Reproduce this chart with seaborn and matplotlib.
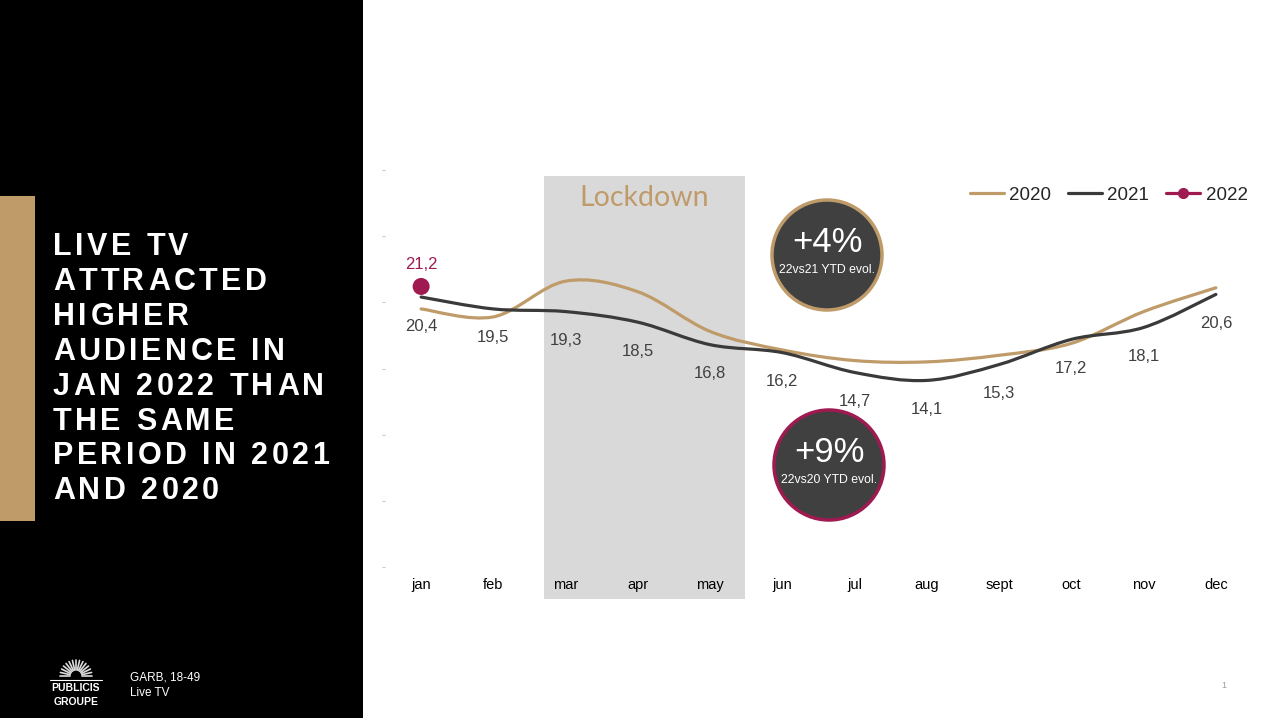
import numpy as np
import pandas as pd
import matplotlib
matplotlib.use("Agg")
import matplotlib.pyplot as plt
import seaborn as sns
from matplotlib.path import Path
from matplotlib.patches import PathPatch, Rectangle, Ellipse
from matplotlib.lines import Line2D
from matplotlib.font_manager import FontProperties, findfont, get_font

# Data (monthly live TV audience, GARB 18-49)
months = ['jan', 'feb', 'mar', 'apr', 'may', 'jun', 'jul', 'aug', 'sept', 'oct', 'nov', 'dec']
vals_2020 = [19.5, 18.9, 21.6, 20.8, 17.8, 16.4, 15.6, 15.5, 16.0, 16.9, 19.3, 21.1]
vals_2021 = [20.4, 19.5, 19.3, 18.5, 16.8, 16.2, 14.7, 14.1, 15.3, 17.2, 18.1, 20.6]
vals_2022 = [21.2]
labels_2021 = ['20,4', '19,5', '19,3', '18,5', '16,8', '16,2', '14,7', '14,1', '15,3', '17,2', '18,1', '20,6']
labels_2022 = ['21,2']

TAN = '#bf9b6a'
DARK = '#3a3a3a'
CRIMSON = '#9e1a50'
W, H = 1279, 718

sns.set_theme(style="white")
plt.rcParams['font.family'] = ['Liberation Sans', 'DejaVu Sans']


def fx(px):
    return px / W


def fy(py):
    return 1 - py / H


def smooth_path(x, y):
    # Catmull-Rom style bezier through the data points (like Excel "smoothed line")
    pts = np.column_stack([x, y]).astype(float)
    ext = np.vstack([pts[0], pts, pts[-1]])
    verts = [pts[0]]
    codes = [Path.MOVETO]
    for i in range(1, len(ext) - 2):
        p0, p1, p2, p3 = ext[i - 1], ext[i], ext[i + 1], ext[i + 2]
        verts += [p1 + (p2 - p0) / 6, p2 - (p3 - p1) / 6, p2]
        codes += [Path.CURVE4] * 3
    return Path(verts, codes)


def tracked_text(fig, x0, y0, s, size, tracking, **kw):
    # draw a line of text char by char with extra letter spacing (pixels)
    prop = FontProperties(family='Liberation Sans', weight='bold', size=size)
    font = get_font(findfont(prop))
    font.set_size(size, 100)
    x = x0
    for ch in s:
        if ch != ' ':
            fig.text(fx(x), fy(y0), ch, fontproperties=prop, va='baseline', ha='left', **kw)
        adv = font.load_char(ord(ch)).linearHoriAdvance / 65536
        x += adv + tracking


fig = plt.figure(figsize=(W / 100, H / 100), dpi=100)
fig.patch.set_facecolor('white')

# left black panel with tan accent bar
fig.patches.append(Rectangle((0, 0), fx(363), 1, transform=fig.transFigure,
                             facecolor='black', edgecolor='none', zorder=0))
fig.patches.append(Rectangle((0, fy(521)), fx(35), (521 - 196) / H, transform=fig.transFigure,
                             facecolor=TAN, edgecolor='none', zorder=1))

title_lines = ['LIVE TV', 'ATTRACTED', 'HIGHER', 'AUDIENCE IN', 'JAN 2022 THAN',
               'THE SAME', 'PERIOD IN 2021', 'AND 2020']
for i, line in enumerate(title_lines):
    tracked_text(fig, 53, 255 + i * 34.9, line, 22, 3.4, color='white', zorder=3)

# logo + source
fig.text(fx(76), fy(688), 'PUBLICIS', color='white', fontsize=7.5, fontweight='bold',
         ha='center', va='center', zorder=3)
fig.text(fx(76), fy(702), 'GROUPE', color='white', fontsize=7.5, fontweight='bold',
         ha='center', va='center', zorder=3)
fig.lines.append(Line2D([fx(50), fx(102)], [fy(680), fy(680)], transform=fig.transFigure,
                        color='white', lw=0.8))
for a in np.linspace(0, np.pi, 15):
    cx, cy = 76, 668
    fig.lines.append(Line2D([fx(cx + 6 * np.cos(a)), fx(cx + 16 * np.cos(a))],
                            [fy(cy - 6 * np.sin(a) + 8), fy(cy - 16 * np.sin(a) + 8)],
                            transform=fig.transFigure, color='#dddddd', lw=1.2))
fig.text(fx(130), fy(677), 'GARB, 18-49', color='white', fontsize=8.5, va='center')
fig.text(fx(130), fy(693), 'Live TV', color='white', fontsize=8.5, va='center')
fig.text(fx(1224), fy(686), '1', color='#9a9a9a', fontsize=6.5, ha='center', va='center')

# main chart axes
ax = fig.add_axes([fx(385), fy(567), (1252 - 385) / W, (567 - 170) / H])
ax.patch.set_alpha(0)
x = np.arange(len(months))
ax.set_xlim(-0.5, len(months) - 0.5)
ax.set_ylim(0, 30)

# lockdown box
ax.add_patch(Rectangle((fx(544), fy(599)), (745 - 544) / W, (599 - 176) / H,
                       transform=fig.transFigure, facecolor='#d9d9d9', edgecolor='none',
                       clip_on=False, zorder=0))
fig.text(fx(644), fy(198), 'Lockdown', color=TAN, fontsize=20.5, family='Lato',
         ha='center', va='center', zorder=5)

ax.add_patch(PathPatch(smooth_path(x, vals_2020), facecolor='none', edgecolor=TAN,
                       lw=2.3, capstyle='round', zorder=3))
ax.add_patch(PathPatch(smooth_path(x, vals_2021), facecolor='none', edgecolor=DARK,
                       lw=2.3, capstyle='round', zorder=4))

df22 = pd.DataFrame({'month': x[:len(vals_2022)], 'value': vals_2022})
sns.scatterplot(data=df22, x='month', y='value', color=CRIMSON, s=150,
                edgecolor='none', ax=ax, zorder=5)

for xi, v, lab in zip(x, vals_2021, labels_2021):
    ax.annotate(lab, (xi, v), xytext=(0, -29), textcoords='offset pixels',
                ha='center', va='center', fontsize=12, color='#404040')
for xi, v, lab in zip(x, vals_2022, labels_2022):
    ax.annotate(lab, (xi, v), xytext=(0, 22), textcoords='offset pixels',
                ha='center', va='center', fontsize=12, color=CRIMSON)

ax.set_xticks(x)
ax.set_xticklabels(months, fontsize=10.5, color='black')
ax.set_yticks(np.arange(0, 31, 5))
ax.set_yticklabels([])
ax.tick_params(axis='x', length=0, pad=8)
ax.tick_params(axis='y', left=True, length=2, width=0.8, color='#c8c8c8')
ax.set_xlabel('')
ax.set_ylabel('')
ax.grid(False)
sns.despine(ax=ax, left=True, bottom=True)

handles = [Line2D([], [], color=TAN, lw=2.3),
           Line2D([], [], color=DARK, lw=2.3),
           Line2D([], [], color=CRIMSON, lw=2.3, marker='o', markersize=7)]
fig.legend(handles, ['2020', '2021', '2022'], loc='center right',
           bbox_to_anchor=(fx(1257), fy(195)), ncol=3, frameon=False, fontsize=13.5,
           handlelength=1.8, handletextpad=0.3, columnspacing=0.9, borderpad=0)

# YTD evolution bubbles
for cx, cy, edge, big, small in [(827, 255, TAN, '+4%', '22vs21 YTD evol.'),
                                 (829, 465, CRIMSON, '+9%', '22vs20 YTD evol.')]:
    fig.patches.append(Ellipse((fx(cx), fy(cy)), 2 * 55 / W, 2 * 55 / H,
                               transform=fig.transFigure, facecolor='#404040',
                               edgecolor=edge, lw=2.5, zorder=6))
    fig.text(fx(cx), fy(cy - 12), big, color='white', fontsize=25, ha='center',
             va='center', zorder=7)
    fig.text(fx(cx), fy(cy + 15), small, color='white', fontsize=8.8, ha='center',
             va='center', zorder=7)

fig.savefig('out.png', dpi=100, facecolor='white')
